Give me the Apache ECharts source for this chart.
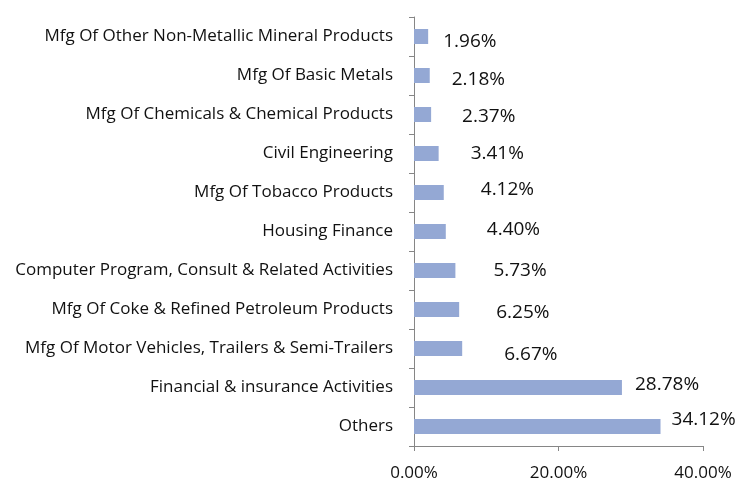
<!DOCTYPE html>
<html>
<head>
<meta charset="utf-8">
<script src="https://cdn.jsdelivr.net/npm/echarts@6/dist/echarts.min.js"></script>
<style>
  html, body { margin: 0; padding: 0; background: #fff; }
  #main { width: 739px; height: 487px; }
</style>
</head>
<body>
<div id="main"></div>
<script>
// categories, top to bottom as in the picture
const categories = [
  'Mfg Of Other Non-Metallic Mineral Products',
  'Mfg Of Basic Metals',
  'Mfg Of Chemicals & Chemical Products',
  'Civil Engineering',
  'Mfg Of Tobacco Products',
  'Housing Finance',
  'Computer Program, Consult & Related Activities',
  'Mfg Of Coke & Refined Petroleum Products',
  'Mfg Of Motor Vehicles, Trailers & Semi-Trailers',
  'Financial & insurance Activities',
  'Others'
]
const values = [1.96, 2.18, 2.37, 3.41, 4.12, 4.40, 5.73, 6.25, 6.67, 28.78, 34.12]
const xTicks = [0, 20, 40]

// excel put the labels at odd gaps from the bar ends
const labelGap = [15, 22, 31, 32, 37, 41, 38, 37, 42, 13, 11]
const labelLift = [5, 4, 2, 0, -3, -2, 0, 3, 6, -3, -7]

const font = '"Open Sans", Lato, sans-serif'
const myChart = echarts.init(document.getElementById('main'))

const barData = values.map((v, i) => ({
  value: v,
  label: { distance: labelGap[i], offset: [0, labelLift[i]] }
}))

const option = {
  animation: false,
  grid: { left: 414, right: 36, top: 17, bottom: 41 },
  xAxis: {
    type: 'value',
    min: xTicks[0],
    max: xTicks[xTicks.length - 1],
    interval: xTicks[1] - xTicks[0],
    splitLine: { show: false },
    axisLine: { show: true, lineStyle: { color: '#868686' } },
    axisTick: { show: true, length: 5, lineStyle: { color: '#868686' } },
    axisLabel: {
      margin: 19,
      color: '#111',
      fontFamily: font,
      fontSize: 17,
      formatter: v => v.toFixed(2) + '%'
    }
  },
  yAxis: {
    type: 'category',
    inverse: true,
    data: categories,
    axisLine: { show: true, lineStyle: { color: '#868686' } },
    axisTick: { show: true, length: 5, lineStyle: { color: '#868686' } },
    axisLabel: {
      margin: 21,
      color: '#111',
      fontFamily: font,
      fontSize: 17
    }
  },
  series: [
    {
      type: 'bar',
      data: barData,
      barWidth: 15,
      itemStyle: { color: '#94A8D4' },
      label: {
        show: true,
        position: 'right',
        color: '#111',
        fontFamily: font,
        fontSize: 19,
        formatter: p => p.value.toFixed(2) + '%'
      }
    }
  ]
}
option && myChart.setOption(option)
</script>
</body>
</html>
